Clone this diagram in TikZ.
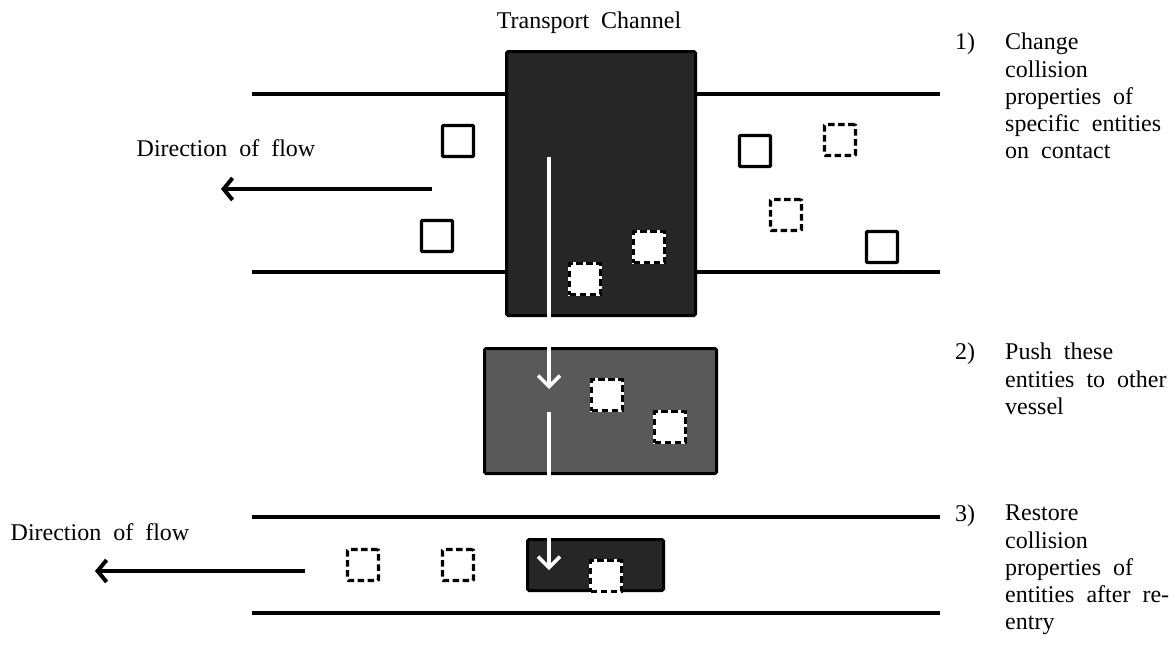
\documentclass[tikz,border=0pt]{standalone}
\usepackage{fontspec}
\setmainfont{Liberation Serif}
\usetikzlibrary{arrows.meta}
\definecolor{darkbox}{HTML}{262626}
\definecolor{midbox}{HTML}{595959}
\newcommand{\lblfont}{\fontsize{24}{27.2}\selectfont\spaceskip=0.5em plus 0.1em minus 0.05em\relax}
\begin{document}
\begin{tikzpicture}[x=1pt,y=-1pt,
  chan/.style={line width=4pt},
  vessel/.style={draw=black, line width=3pt, rounded corners=1.5pt, inner sep=0pt},
  sq/.style={draw=black, line width=3.3pt, minimum size=31pt, inner sep=0pt, fill=white, rounded corners=1pt},
  dsq/.style={sq, dash pattern=on 6.5pt off 3.5pt},
  wsq/.style={minimum size=31pt, inner sep=0pt, fill=white, draw=black, line width=3.3pt,
     dash pattern=on 6.5pt off 3.5pt, preaction={draw=white, solid}},
  flow/.style={line width=4pt, -{Straight Barb[length=9pt,width=22pt]}},
  push/.style={draw=white, line width=3.5pt, -{Straight Barb[length=11pt,width=22pt]}},
  lbl/.style={font=\lblfont, inner sep=0pt},
  note/.style={font=\lblfont, inner sep=0pt, anchor=north west, align=left}
]
\useasboundingbox (0,0) rectangle (1175,653);

% upper channel
\draw[chan] (252,94) -- (505,94);
\draw[chan] (697,94) -- (940,94);
\draw[chan] (252,272) -- (505,272);
\draw[chan] (697,272) -- (940,272);

% vessels
\node[vessel, fill=darkbox, minimum width=189pt, minimum height=264pt] (top) at (601,183.5) {};
\node[vessel, fill=midbox, minimum width=232pt, minimum height=125pt] (mid) at (600.5,411) {};
\node[vessel, fill=darkbox, minimum width=136pt, minimum height=51pt] (bot) at (595.5,565) {};

% title
\node[lbl] (title) at (589,23) {Transport Channel};

% upper flow
\node[lbl] (flowA) at (226,148) {Direction of flow};
\coordinate (fa1) at (432,189);
\coordinate (fa2) at (221,189);
\draw[flow] (fa1) -- (fa2);

% lower flow
\node[lbl] (flowB) at (100,532) {Direction of flow};
\coordinate (fb1) at (305,571);
\coordinate (fb2) at (95,571);
\draw[flow] (fb1) -- (fb2);

% entities upper channel
\node[sq] (s1) at (458,141) {};
\node[sq] (s2) at (437,236) {};
\node[sq] (s3) at (755,151) {};
\node[sq] (s4) at (882,247) {};
\node[dsq] (d1) at (840,140) {};
\node[dsq] (d2) at (786,215) {};

% entities in transport channel
\node[wsq] (w1) at (649,247) {};
\node[wsq] (w2) at (585,279) {};

% entities in vessel
\node[wsq] (w3) at (607,395) {};
\node[wsq] (w4) at (670,427) {};

% entities lower channel
\node[dsq] (d3) at (363,565) {};
\node[dsq] (d4) at (458,565) {};
\node[wsq] (w5) at (606,576) {};

% push arrows
\coordinate (p1) at (549,157);
\coordinate (p2) at (549,389);
\coordinate (p3) at (549,412);
\coordinate (p4) at (549,570);
\draw[push] (p1) -- (p2);
\draw[push] (p3) -- (p4);

% lower channel
\draw[chan] (252,517) -- (940,517);
\draw[chan] (252,613) -- (940,613);

% steps
\node[note] (n1) at (955,33) {1)};
\node[note] (t1) at (1005,33) {Change\\collision\\properties of\\specific entities\\on contact};
\node[note] (n2) at (955,343) {2)};
\node[note] (t2) at (1005,343) {Push these\\entities to other\\vessel};
\node[note] (n3) at (955,505) {3)};
\node[note] (t3) at (1005,505) {Restore\\collision\\properties of\\entities after re-\\entry};
\end{tikzpicture}
\end{document}
